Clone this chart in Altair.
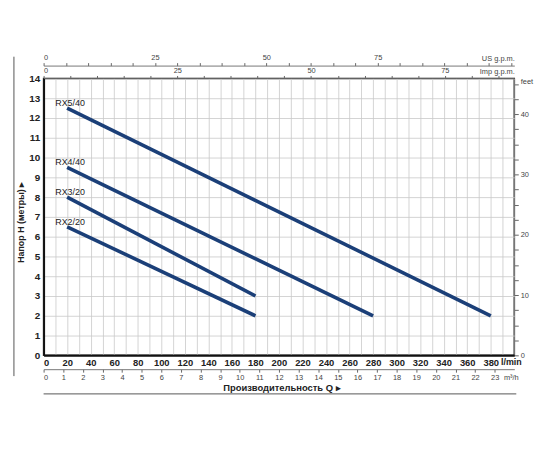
import altair as alt
import pandas as pd

# ---- data ----
models = ["RX2/20", "RX3/20", "RX4/40", "RX5/40"]
q_start = [20, 20, 20, 20]          # l/min
h_start = [6.5, 8.0, 9.5, 12.5]     # m
q_end = [180, 180, 280, 380]        # l/min
h_end = [2.0, 3.0, 2.0, 2.0]        # m

Q_MAX = 400
H_MAX = 14
US_GPM = 0.264172
IMP_GPM = 0.219969
M3H = 0.06
FEET = 3.28084

x_ticks = list(range(0, Q_MAX + 1, 10))
y_ticks = [i * 0.5 for i in range(0, H_MAX * 2 + 1)]
us_ticks = list(range(0, 106, 5))
imp_ticks = list(range(0, 88, 5))
m3h_ticks = [i * 0.5 for i in range(0, 48)]
feet_ticks = [i * 2.5 for i in range(0, 19)]

rows = []
for m, qs, hs, qe, he in zip(models, q_start, h_start, q_end, h_end):
    rows.append({"model": m, "Q": qs, "H": hs, "o": 0})
    rows.append({"model": m, "Q": qe, "H": he, "o": 1})
lines_df = pd.DataFrame(rows)
labels_df = pd.DataFrame({"model": models, "Q": q_start, "H": h_start})

FONT = "Liberation Sans, Arial, Helvetica, sans-serif"
W, H = 476, 280
GRID = "#c8c8c8"

xs = alt.Scale(domain=[0, Q_MAX], nice=False, zero=True)
ys = alt.Scale(domain=[0, H_MAX], nice=False, zero=True)

main = alt.Chart(lines_df).mark_line(color="#1b3f78", strokeWidth=3.6, strokeCap="butt").encode(
    x=alt.X("Q:Q", scale=xs, axis=alt.Axis(
        orient="bottom", values=x_ticks, grid=True, gridColor=GRID, gridWidth=0.8,
        ticks=False, domainColor="#111", domainWidth=2, format="d",
        labelExpr="(datum.value % 20 == 0 && datum.value <= 380) ? datum.label : ''",
        labelOverlap=False, labelFont=FONT, labelFontSize=9.5, labelFontWeight="bold",
        labelColor="#222", labelPadding=2,
        title="l/min", titleFont=FONT, titleFontSize=9, titleFontWeight="bold",
        titleColor="#222", titleX=462, titleY=2, titleAlign="left", titleBaseline="top")),
    y=alt.Y("H:Q", scale=ys, axis=alt.Axis(
        orient="left", values=y_ticks, grid=True, gridColor=GRID, gridWidth=0.8,
        ticks=False, domainColor="#111", domainWidth=2, format="d",
        labelExpr="(datum.value % 1 == 0) ? datum.label : ''",
        labelOverlap=False, labelFont=FONT, labelFontSize=10, labelFontWeight="bold",
        labelColor="#222", labelPadding=4,
        title="Напор H (метры) ▸", titleFont=FONT, titleFontSize=9, titleFontWeight="bold",
        titleColor="#222", titleAngle=270, titleX=-23, titleY=145,
        titleAlign="center", titleBaseline="middle")),
    detail="model:N",
    order="o:Q",
)

labels = alt.Chart(labels_df).mark_text(
    align="left", baseline="alphabetic", dx=-12, dy=-2,
    font=FONT, fontSize=9, color="#222"
).encode(
    x=alt.X("Q:Q", scale=xs, axis=None),
    y=alt.Y("H:Q", scale=ys, axis=None),
    text="model:N",
)

axis_lbl = dict(labelFont=FONT, labelFontSize=7.5, labelColor="#444", labelOverlap=False,
                titleFont=FONT, titleFontSize=7.5, titleFontWeight="normal", titleColor="#444",
                format="d")

us = alt.Chart(pd.DataFrame({"v": [0, Q_MAX * US_GPM]})).mark_point(opacity=0).encode(
    x=alt.X("v:Q", scale=alt.Scale(domain=[0, Q_MAX * US_GPM], nice=False), axis=alt.Axis(
        orient="top", offset=13, values=us_ticks, grid=False, tickSize=3, tickColor="#666",
        domainColor="#777", domainWidth=1, labelPadding=1,
        labelExpr="(datum.value % 25 == 0 && datum.value <= 75) ? datum.label : ''",
        title="US g.p.m.", titleX=476, titleY=-7, titleAlign="right", titleBaseline="middle",
        **axis_lbl))
)

imp = alt.Chart(pd.DataFrame({"v": [0, Q_MAX * IMP_GPM]})).mark_point(opacity=0).encode(
    x=alt.X("v:Q", scale=alt.Scale(domain=[0, Q_MAX * IMP_GPM], nice=False), axis=alt.Axis(
        orient="top", offset=0, values=imp_ticks, grid=False, tickSize=3, tickColor="#666",
        domain=False, labelPadding=1,
        labelExpr="(datum.value % 25 == 0 && datum.value <= 75) ? datum.label : ''",
        title="Imp g.p.m.", titleX=476, titleY=-7, titleAlign="right", titleBaseline="middle",
        **axis_lbl))
)

m3h = alt.Chart(pd.DataFrame({"v": [0, Q_MAX * M3H]})).mark_point(opacity=0).encode(
    x=alt.X("v:Q", scale=alt.Scale(domain=[0, Q_MAX * M3H], nice=False), axis=alt.Axis(
        orient="bottom", offset=14, values=m3h_ticks, grid=False, tickSize=3, tickColor="#666",
        domainColor="#777", domainWidth=1, labelPadding=1,
        labelExpr="(datum.value % 1 == 0 && datum.value <= 23) ? datum.label : ''",
        title="m³/h", titleX=465, titleY=4, titleAlign="left", titleBaseline="top",
        **axis_lbl))
)

feet = alt.Chart(pd.DataFrame({"v": [0, H_MAX * FEET]})).mark_point(opacity=0).encode(
    y=alt.Y("v:Q", scale=alt.Scale(domain=[0, H_MAX * FEET], nice=False), axis=alt.Axis(
        orient="right", values=feet_ticks, grid=False, tickSize=4, tickColor="#666",
        domain=False, labelPadding=2,
        labelExpr="(datum.value % 10 == 0) ? datum.label : ''",
        title="feet", titleAngle=0, titleX=6, titleY=3, titleAlign="left", titleBaseline="middle",
        **axis_lbl))
)

one = pd.DataFrame({"a": [0]})
vrule = alt.Chart(one).mark_rule(color="#555", strokeWidth=1).encode(
    x=alt.value(-30), y=alt.value(-22), y2=alt.value(301))
hrule = alt.Chart(one).mark_rule(color="#555", strokeWidth=1).encode(
    x=alt.value(0), x2=alt.value(478), y=alt.value(319))

chart = alt.layer(main, labels, us, imp, m3h, feet, vrule, hrule).resolve_scale(
    x="independent", y="independent"
).properties(
    width=W, height=H,
    autosize=alt.AutoSizeParams(type="none"),
    padding={"left": 36, "top": 69, "right": 28, "bottom": 50},
    title=alt.TitleParams(
        text="Производительность Q ▸", orient="bottom", anchor="middle", frame="group",
        offset=-11, baseline="top", font=FONT, fontSize=9.5, fontWeight="bold",
        color="#222", dx=3),
).configure_view(stroke="#111", strokeWidth=1.5)

chart.save("out.html", embed_options={"renderer": "svg", "actions": False})
